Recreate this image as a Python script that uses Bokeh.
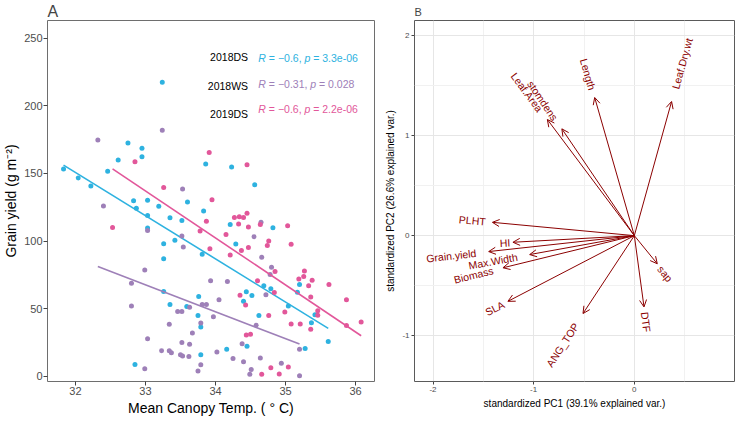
import math
import numpy as np
from bokeh.plotting import figure
from bokeh.layouts import row
from bokeh.models import ColumnDataSource, Range1d, FixedTicker, Arrow, OpenHead
from bokeh.core.properties import value
from bokeh.embed import file_html
from bokeh.resources import INLINE

FONT = "Liberation Sans"

# ---------------- data: panel A ----------------
ds18_x = [33.24, 31.83, 32.04, 32.22, 32.46, 32.61, 32.75, 32.95, 32.95, 32.83, 32.87, 33.03, 33.19,
          33.60, 33.83, 33.86, 34.23, 34.56, 33.03, 33.03, 33.35, 33.52, 33.26, 33.26, 33.42, 33.81,
          34.21, 34.29, 34.82, 33.26, 33.35, 33.59, 33.76, 33.75, 33.79, 34.44, 34.40, 34.52, 34.69,
          34.79, 34.62, 35.04, 35.17, 35.20, 35.42, 35.37, 35.61, 35.28, 34.16, 33.79, 32.85, 34.45]
ds18_y = [217.4, 153.2, 146.6, 140.7, 151.7, 160.0, 172.5, 168.6, 162.3, 129.9, 124.3, 130.1, 125.7,
          128.9, 122.3, 156.9, 154.7, 141.7, 118.9, 109.6, 117.2, 115.2, 98.0, 87.0, 100.7, 90.2,
          112.3, 97.8, 109.8, 62.7, 53.2, 51.7, 59.1, 44.9, 36.5, 62.5, 55.6, 59.8, 66.9,
          64.7, 44.9, 52.0, 62.2, 67.9, 45.6, 39.7, 25.7, 20.6, 20.1, 15.9, 8.8, 22.3]

ws18_x = [32.32, 33.24, 32.40, 33.53, 33.03, 33.52, 33.54, 34.65, 34.55, 34.66, 34.80, 34.78, 34.72,
          32.99, 32.80, 32.80, 33.93, 34.17, 34.05, 33.81, 33.87, 33.63, 33.46, 33.52, 33.97, 33.34,
          33.79, 33.67, 33.03, 33.52, 33.63, 33.23, 33.34, 33.37, 33.50, 33.53, 33.62, 34.02, 34.38,
          34.58, 32.99, 33.79, 33.75, 34.25, 34.40, 34.64, 34.51, 34.49, 34.94, 35.20, 35.20]
ws18_y = [174.8, 181.9, 126.0, 138.5, 107.8, 103.7, 95.6, 114.0, 103.2, 88.0, 80.6, 75.2, 60.3,
          78.7, 68.9, 52.0, 70.6, 70.1, 56.6, 53.2, 53.2, 51.0, 48.0, 48.0, 44.1, 38.5,
          39.5, 32.1, 27.7, 25.0, 23.8, 18.9, 18.9, 17.4, 15.9, 15.0, 14.7, 17.9, 24.0,
          37.7, 5.6, 8.6, 3.9, 13.2, 10.8, 13.5, 5.1, 1.5, 9.6, 20.1, 0.5]

ds19_x = [32.85, 33.91, 33.26, 33.95, 34.45, 34.45, 34.27, 34.34, 34.40, 32.53, 33.78, 33.87, 33.92,
          34.15, 34.21, 34.33, 34.37, 34.47, 34.47, 34.64, 34.76, 34.74, 35.03, 35.08, 34.60, 34.84,
          34.85, 34.35, 34.43, 34.76, 34.99, 35.08, 34.44, 34.50, 34.66, 34.79, 34.91, 35.04, 35.21,
          35.19, 35.27, 35.26, 35.33, 35.38, 35.36, 35.36, 35.46, 35.46, 35.62, 35.87, 35.87, 36.08]
ds19_y = [158.6, 165.4, 139.7, 130.6, 156.4, 120.6, 117.4, 117.9, 117.4, 110.0, 107.4, 114.7, 94.4,
          104.9, 89.7, 112.7, 93.1, 110.5, 95.3, 112.3, 100.0, 96.8, 111.3, 97.7, 70.6, 62.0,
          77.5, 60.0, 52.7, 44.9, 47.5, 38.7, 30.6, 31.1, 1.5, 6.4, 1.7, 6.9, 38.7,
          71.9, 77.9, 73.8, 66.9, 71.1, 58.7, 34.9, 48.5, 45.1, 67.9, 56.7, 37.5, 40.2]

groups = ["2018DS", "2018WS", "2019DS"]
group_r = ["\u22120.6", "\u22120.31", "\u22120.6"]
group_p = ["3.3e-06", "0.028", "2.2e-06"]
colors = ["#2EB2E0", "#9E80B8", "#E2579A"]

x_ticks_a = [32, 33, 34, 35, 36]
y_ticks_a = [0, 50, 100, 150, 200, 250]

# ---------------- data: panel B ----------------
pca_vars = ["Leaf.Dry.wt", "Length", "stomdens", "Leaf.Area", "PLHT", "HI", "Grain.yield",
            "Max.Width", "Biomass", "SLA", "ANG_TOP", "DTF", "sap"]
pc1 = [0.37, -0.394, -0.72, -0.864, -1.41, -1.206, -1.447, -1.04, -1.305, -1.256, -0.51, 0.096, 0.228]
pc2 = [1.34, 1.38, 1.067, 1.16, 0.133, -0.066, -0.159, -0.189, -0.321, -0.656, -0.778, -0.712, -0.281]
x_ticks_b = [-2, -1, 0, 1]
y_ticks_b = [-1, 0, 1, 2]

# Arial / Liberation Sans advance widths (per 1000 em)
AW = {' ': 278, '=': 584, '\u2212': 584, '-': 333, '.': 278, ',': 278, '_': 556}
for ch in "0123456789":
    AW[ch] = 556
AW.update(dict(zip("abcdefghijklmnopqrstuvwxyz",
                   [556, 556, 500, 556, 556, 278, 556, 556, 222, 222, 500, 222, 833, 556, 556, 556,
                    556, 333, 500, 278, 556, 500, 722, 500, 500, 500])))
AW.update(dict(zip("ABCDEFGHIJKLMNOPQRSTUVWXYZ",
                   [667, 667, 722, 722, 667, 611, 778, 722, 278, 500, 667, 556, 833, 722, 778, 667,
                    778, 722, 667, 611, 722, 667, 944, 667, 667, 611])))


def text_w(s, px):
    return sum(AW.get(c, 556) for c in s) / 1000.0 * px


H = 418
TOP = 18
BOT = 37
FH = H - TOP - BOT

# ---------------- panel A ----------------
A_W, A_L, A_R = 382, 44, 8
A_PXX, A_PXY = 70.67, 1.36
ax0 = 32 - (73.7 - 45.5) / A_PXX
ay1 = 250 + (38.3 - 20.5) / A_PXY
pA = figure(width=A_W, height=H, output_backend="svg", toolbar_location=None,
            x_range=Range1d(ax0, ax0 + (A_W - A_L - A_R) / A_PXX),
            y_range=Range1d(ay1 - FH / A_PXY, ay1),
            min_border_left=A_L, min_border_right=A_R, min_border_top=TOP, min_border_bottom=BOT,
            title="A")
pA.title.text_font = FONT
pA.title.text_font_size = "16px"
pA.title.text_font_style = "normal"
pA.title.standoff = 1
pA.title.offset = 0
pA.grid.visible = False
pA.outline_line_color = "#6E6E6E"
pA.outline_line_width = 1

pA.xaxis.ticker = FixedTicker(ticks=x_ticks_a)
pA.yaxis.ticker = FixedTicker(ticks=y_ticks_a)
for ax in (pA.xaxis[0], pA.yaxis[0]):
    ax.axis_line_color = None
    ax.major_tick_out = 4
    ax.major_tick_in = 0
    ax.minor_tick_out = 0
    ax.minor_tick_in = 0
    ax.major_tick_line_color = "#444444"
    ax.major_label_text_font = FONT
    ax.major_label_text_font_size = "11px"
    ax.major_label_text_color = "#4D4D4D"
    ax.major_label_standoff = 1
    ax.axis_label_text_font = FONT
    ax.axis_label_text_font_size = "14px"
    ax.axis_label_text_font_style = "normal"
    ax.axis_label_text_color = "#000000"
    ax.axis_label_standoff = 2
pA.xaxis.axis_label = "Mean Canopy Temp. ( \u00b0 C)"
pA.yaxis.axis_label = "Grain yield (g m\u207b\u00b2)"

series = [(ds18_x, ds18_y), (ws18_x, ws18_y), (ds19_x, ds19_y)]
for (xs, ys), col in zip(series, colors):
    xa = np.array(xs)
    ya = np.array(ys)
    slope, icpt = np.polyfit(xa, ya, 1)
    lx = [xa.min(), xa.max()]
    ly = [slope * v + icpt for v in lx]
    pA.scatter(xs, ys, size=5, fill_color=col, line_color=None)
    pA.line(lx, ly, line_color=col, line_width=1.6)

# group annotations
lab_x = 34.465
lab_y = [236.3, 214.9, 193.6]
stat_y = [235.5, 216.2, 197.3]
stat_x = 34.612
FS = 10.5
SP = text_w(" ", FS)
pA.text(x=[lab_x] * 3, y=lab_y, text=groups, text_align="right", text_baseline="middle",
        text_font=value(FONT), text_font_size=value(f"{FS}px"), text_color="#000000")
for gi in range(3):
    pieces = ["R", "= " + group_r[gi] + ",", "p", "= " + group_p[gi]]
    styles = ["italic", "normal", "italic", "normal"]
    off = 0.0
    for piece, st in zip(pieces, styles):
        pA.text(x=[stat_x], y=[stat_y[gi]], text=[piece], x_offset=off, text_align="left",
                text_baseline="middle", text_font=value(FONT), text_font_size=value(f"{FS}px"),
                text_font_style=st, text_color=colors[gi])
        off += text_w(piece, FS) + SP

# ---------------- panel B ----------------
B_PX = 100.67
B_W, B_L, B_R = 354, 32, 2
B_FW = B_W - B_L - B_R
bx0 = -2 - (433.3 - 414.8) / B_PX
by1 = 2 + (35.0 - 20.0) / B_PX
pB = figure(width=B_W, height=H, output_backend="svg", toolbar_location=None,
            x_range=Range1d(bx0, bx0 + B_FW / B_PX), y_range=Range1d(by1 - FH / B_PX, by1),
            min_border_left=B_L, min_border_right=B_R, min_border_top=TOP, min_border_bottom=BOT,
            title="B")
pB.title.text_font = FONT
pB.title.text_font_size = "11px"
pB.title.text_font_style = "normal"
pB.title.standoff = 6
pB.title.offset = 0
pB.outline_line_color = "#5A5A5A"
pB.outline_line_width = 1
pB.xaxis.ticker = FixedTicker(ticks=x_ticks_b, minor_ticks=[-1.5, -0.5, 0.5])
pB.yaxis.ticker = FixedTicker(ticks=y_ticks_b, minor_ticks=[-1.5, -0.5, 0.5, 1.5])
pB.grid.grid_line_color = "#E6E6E6"
pB.grid.grid_line_width = 1
pB.grid.minor_grid_line_color = "#F1F1F1"
pB.grid.minor_grid_line_width = 1
for ax in (pB.xaxis[0], pB.yaxis[0]):
    ax.axis_line_color = None
    ax.major_tick_out = 3
    ax.major_tick_in = 0
    ax.minor_tick_out = 0
    ax.minor_tick_in = 0
    ax.major_tick_line_color = "#444444"
    ax.major_label_text_font = FONT
    ax.major_label_text_font_size = "8px"
    ax.major_label_text_color = "#4D4D4D"
    ax.major_label_standoff = 2
    ax.axis_label_text_font = FONT
    ax.axis_label_text_font_size = "10px"
    ax.axis_label_text_font_style = "normal"
    ax.axis_label_text_color = "#000000"
    ax.axis_label_standoff = 3
pB.xaxis.major_label_overrides = {t: str(t) for t in x_ticks_b}
pB.yaxis.major_label_overrides = {t: str(t) for t in y_ticks_b}
pB.xaxis.axis_label = "standardized PC1 (39.1% explained var.)"
pB.yaxis.axis_label = "standardized PC2 (26.6% explained var.)"

DARKRED = "#8B0000"
n = len(pca_vars)
arr_src = ColumnDataSource(dict(x0=[0.0] * n, y0=[0.0] * n, x1=pc1, y1=pc2))
pB.add_layout(Arrow(end=OpenHead(size=7, line_color=DARKRED, line_width=1),
                    x_start="x0", y_start="y0", x_end="x1", y_end="y1", source=arr_src,
                    line_color=DARKRED, line_width=1))

VFS = 10.5
left_src = dict(x=[], y=[], text=[], angle=[])
right_src = dict(x=[], y=[], text=[], angle=[])
for name, vx, vy in zip(pca_vars, pc1, pc2):
    ang = math.atan(vy / vx)
    L = math.hypot(vx, vy)
    ux, uy = vx / L, vy / L
    gap = 0.25 * text_w(name, VFS) / B_PX
    tx, ty = vx + ux * gap, vy + uy * gap
    d = left_src if vx > 0 else right_src
    d["x"].append(tx)
    d["y"].append(ty)
    d["text"].append(name)
    d["angle"].append(ang)
pB.text(x="x", y="y", text="text", angle="angle", source=ColumnDataSource(left_src),
        text_align="left", text_baseline="middle", text_font=value(FONT),
        text_font_size=value(f"{VFS}px"), text_color=DARKRED)
pB.text(x="x", y="y", text="text", angle="angle", source=ColumnDataSource(right_src),
        text_align="right", text_baseline="middle", text_font=value(FONT),
        text_font_size=value(f"{VFS}px"), text_color=DARKRED)

layout = row(pA, pB)
open("out.html", "w").write(file_html(layout, INLINE))
